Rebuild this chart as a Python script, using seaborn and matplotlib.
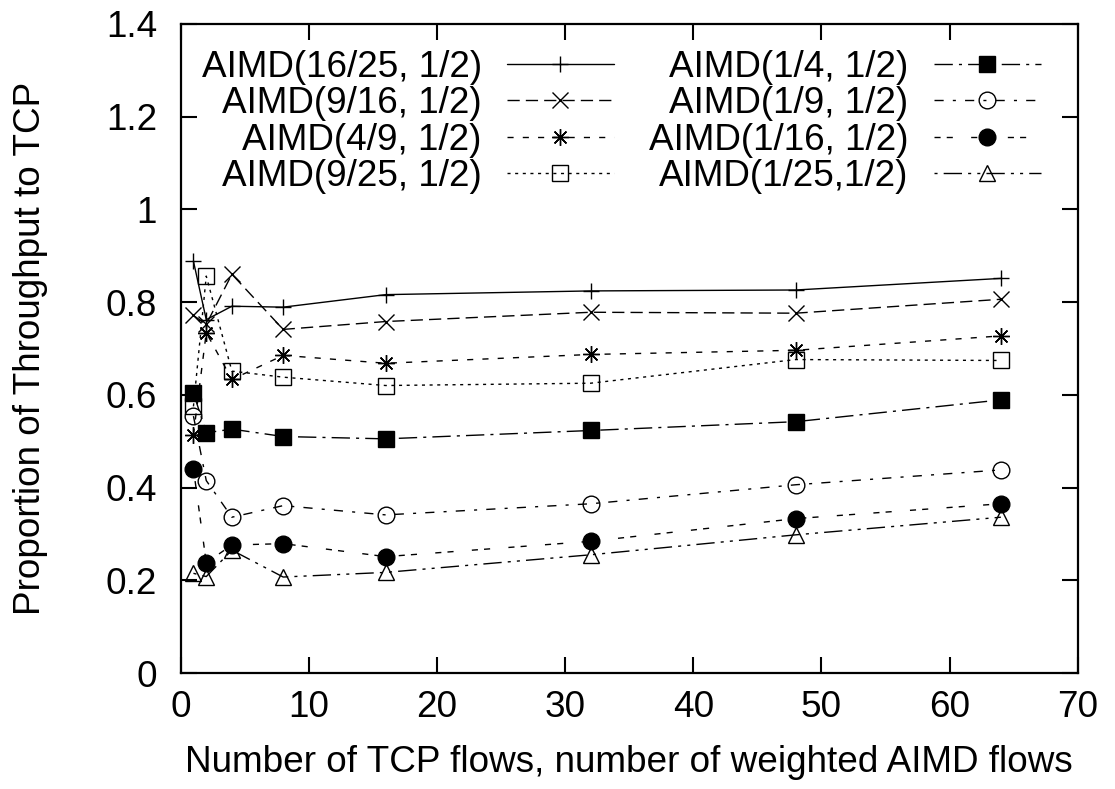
import matplotlib
matplotlib.use("Agg")
import matplotlib.pyplot as plt
import seaborn as sns

# data
flows = [1, 2, 4, 8, 16, 32, 48, 64]
aimd_16_25 = [0.888, 0.762, 0.791, 0.789, 0.816, 0.824, 0.826, 0.851]
aimd_9_16 = [0.771, 0.752, 0.860, 0.741, 0.758, 0.778, 0.776, 0.806]
aimd_4_9 = [0.514, 0.734, 0.633, 0.685, 0.668, 0.687, 0.696, 0.727]
aimd_9_25 = [0.575, 0.856, 0.651, 0.638, 0.620, 0.625, 0.676, 0.674]
aimd_1_4 = [0.604, 0.518, 0.526, 0.510, 0.505, 0.523, 0.542, 0.589]
aimd_1_9 = [0.554, 0.415, 0.336, 0.361, 0.341, 0.365, 0.406, 0.438]
aimd_1_16 = [0.440, 0.238, 0.276, 0.279, 0.251, 0.284, 0.333, 0.365]
aimd_1_25 = [0.215, 0.208, 0.265, 0.207, 0.217, 0.255, 0.298, 0.336]

labels = ["AIMD(16/25, 1/2)", "AIMD(9/16, 1/2)", "AIMD(4/9, 1/2)", "AIMD(9/25, 1/2)",
          "AIMD(1/4, 1/2)", "AIMD(1/9, 1/2)", "AIMD(1/16, 1/2)", "AIMD(1/25,1/2)"]
series = [aimd_16_25, aimd_9_16, aimd_4_9, aimd_9_25,
          aimd_1_4, aimd_1_9, aimd_1_16, aimd_1_25]

# gnuplot-like line types: (dash pattern, marker, marker face, marker size)
u = 2.2
styles = [
    ("-", "+", "none", 12),
    ((0, (4 * u, 2 * u)), "x", "none", 12),
    ((0, (2 * u, 3 * u)), (8, 2, 0), "none", 12),
    ((0, (1 * u, 1.5 * u)), "s", "none", 12),
    ((0, (6 * u, 2 * u, 1 * u, 2 * u)), "s", "black", 12),
    ((0, (3 * u, 3 * u, 1 * u, 3 * u)), "o", "none", 12),
    ((0, (2 * u, 2 * u, 2 * u, 6 * u)), "o", "black", 12),
    ((0, (1 * u, 2 * u, 6 * u, 2 * u, 1 * u, 2 * u)), "^", "none", 11),
]

FS = 26.6

sns.set_style("ticks")
plt.rcParams["font.family"] = ["Liberation Sans", "DejaVu Sans"]
plt.rcParams["font.size"] = FS

fig = plt.figure(figsize=(11.15, 7.89), dpi=100)
ax = fig.add_axes([0.162, 0.147, 0.8046, 0.8228])

for vals, lab, (ls, mk, mfc, ms) in zip(series, labels, styles):
    sns.lineplot(x=flows, y=vals, ax=ax, color="black", lw=1, linestyle=ls,
                 marker=mk, ms=ms, mfc=mfc, markeredgecolor="black",
                 markeredgewidth=1, label=lab, errorbar=None, sort=False)

ax.set_xlim(0, 70)
ax.set_ylim(0, 1.4)
ax.set_xticks(range(0, 71, 10))
ax.set_yticks([0, 0.2, 0.4, 0.6, 0.8, 1.0, 1.2, 1.4])
ax.set_yticklabels(["0", "0.2", "0.4", "0.6", "0.8", "1", "1.2", "1.4"])

for s in ax.spines.values():
    s.set_linewidth(1.6)
    s.set_color("black")
ax.tick_params(axis="both", which="major", direction="in", length=11.5, width=1.5,
               top=True, right=True, labelsize=FS, colors="black")
ax.tick_params(axis="x", pad=12.5)
ax.tick_params(axis="y", pad=17)

ax.set_xlabel("Number of TCP flows, number of weighted AIMD flows", fontsize=FS, color="black")
ax.set_ylabel("Proportion of Throughput to TCP", fontsize=FS, color="black")
ax.xaxis.set_label_coords(0.5, -0.111)
ax.yaxis.set_label_coords(-0.148, 0.5)

leg = ax.legend(ncol=2, loc="upper left", bbox_to_anchor=(0.0234, 0.960),
                frameon=False, markerfirst=False, numpoints=1, fontsize=FS,
                handlelength=2.9, handletextpad=0.68, columnspacing=0.95,
                labelspacing=0.04, borderpad=0, borderaxespad=0)
for t in leg.get_texts():
    t.set_color("black")

fig.savefig("out.png", dpi=100)
